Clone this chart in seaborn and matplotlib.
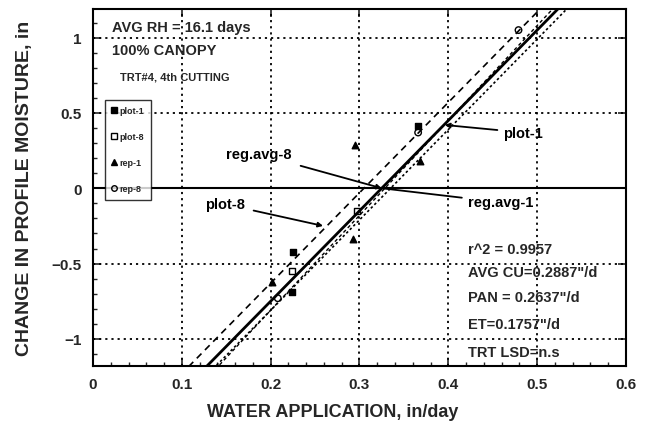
import matplotlib
matplotlib.use("Agg")
import matplotlib.pyplot as plt
import seaborn as sns
import numpy as np
import pandas as pd
from matplotlib.ticker import MultipleLocator

# ---- data ----
series_names = ["plot-1", "plot-8", "rep-1", "rep-8"]
s1_x = [0.366, 0.225, 0.224]
s1_y = [0.41, -0.42, -0.69]
s2_x = [0.297, 0.224]
s2_y = [-0.15, -0.55]
s3_x = [0.295, 0.368, 0.201, 0.293]
s3_y = [0.29, 0.18, -0.62, -0.34]
s4_x = [0.366, 0.208, 0.479]
s4_y = [0.37, -0.73, 1.05]

line_names = ["plot-8", "reg.avg-8", "reg.avg-1", "plot-1"]
line_slopes = [6.0, 6.0, 6.0, 6.3]
line_intercepts = [-1.83, -1.95, -2.01, -2.07]

x_ticks = [0, 0.1, 0.2, 0.3, 0.4, 0.5, 0.6]
x_ticklabels = ["0", "0.1", "0.2", "0.3", "0.4", "0.5", "0.6"]
y_ticks = [-1, -0.5, 0, 0.5, 1]
y_ticklabels = ["\u22121", "\u22120.5", "0", "0.5", "1"]

info_top = ["AVG RH = 16.1 days", "100% CANOPY", "TRT#4, 4th CUTTING"]
info_bottom = ["r^2 = 0.9957", "AVG CU=0.2887\"/d", "PAN = 0.2637\"/d",
               "ET=0.1757\"/d", "TRT LSD=n.s"]
info_bottom_y = [-0.40, -0.556, -0.72, -0.90, -1.086]

# ---- style ----
sns.set_style("ticks")
plt.rcParams["font.family"] = ["Liberation Sans", "DejaVu Sans"]
plt.rcParams["font.weight"] = "bold"

fig = plt.figure(figsize=(6.53, 4.35), dpi=100)
ax = fig.add_axes([93 / 653, 1 - 367 / 435, (626 - 93) / 653, (367 - 10) / 435])

# grid
for xv in x_ticks[1:-1]:
    ax.axvline(xv, color="black", lw=1.3, ls=(0, (1.2, 2.2)), zorder=1)
for yv in y_ticks:
    if yv == 0:
        ax.axhline(0, color="black", lw=1.5, zorder=1)
    else:
        ax.axhline(yv, color="black", lw=1.3, ls=(0, (1.2, 2.2)), zorder=1)

# regression lines
xx = np.array([0.08, 0.62])
styles = [(0, (4, 3)), "-", (0, (1.5, 1.5)), (0, (2.5, 2))]
widths = [1.2, 2.0, 1.2, 1.0]
for name, m, b, st, w in zip(line_names, line_slopes, line_intercepts, styles, widths):
    df = pd.DataFrame({"x": xx, "y": m * xx + b})
    sns.lineplot(data=df, x="x", y="y", ax=ax, color="black", lw=w,
                 linestyle=st, zorder=3)

# points
pts = [(s1_x, s1_y, "s", "black"), (s2_x, s2_y, "s", "none"),
       (s3_x, s3_y, "^", "black"), (s4_x, s4_y, "o", "none")]
handles = []
for name, (px, py, mk, fc) in zip(series_names, pts):
    df = pd.DataFrame({"x": px, "y": py})
    sns.scatterplot(data=df, x="x", y="y", ax=ax, marker=mk, s=22,
                    facecolor=fc, edgecolor="black", linewidth=1.0, zorder=4)
    handles.append(plt.Line2D([], [], marker=mk, color="black", ls="none",
                              markerfacecolor=fc, markersize=4))

leg = ax.legend(handles, series_names, loc="upper left",
                bbox_to_anchor=(0.0225, 0.746), fontsize=6.5, frameon=True,
                fancybox=False, edgecolor="black", handlelength=0.6,
                handletextpad=0.3, borderpad=0.7, labelspacing=1.9,
                borderaxespad=0)
leg.get_frame().set_linewidth(1.0)

# annotations
ann_kw = dict(fontsize=10.5, fontweight="bold", color="black")
ax.annotate("reg.avg-8", xy=(0.325, 0.0), xytext=(0.224, 0.225),
            ha="right", va="center",
            arrowprops=dict(arrowstyle="-|>", color="black", lw=1.3,
                            shrinkA=4, shrinkB=0, mutation_scale=7), **ann_kw)
ax.annotate("plot-8", xy=(0.259, -0.25), xytext=(0.171, -0.106),
            ha="right", va="center",
            arrowprops=dict(arrowstyle="-|>", color="black", lw=1.3,
                            shrinkA=4, shrinkB=0, mutation_scale=7), **ann_kw)
ax.annotate("reg.avg-1", xy=(0.325, 0.0), xytext=(0.422, -0.093),
            ha="left", va="center",
            arrowprops=dict(arrowstyle="-", color="black", lw=1.3,
                            shrinkA=2, shrinkB=0), **ann_kw)
ax.annotate("plot-1", xy=(0.396, 0.42), xytext=(0.462, 0.37),
            ha="left", va="center",
            arrowprops=dict(arrowstyle="-|>", color="black", lw=1.3,
                            shrinkA=2, shrinkB=0, mutation_scale=7), **ann_kw)

# info texts
ax.text(0.021, 1.07, info_top[0], fontsize=10.5, fontweight="bold", va="center")
ax.text(0.021, 0.92, info_top[1], fontsize=10.5, fontweight="bold", va="center")
ax.text(0.03, 0.74, info_top[2], fontsize=8, fontweight="bold", va="center")
for t, yv in zip(info_bottom, info_bottom_y):
    ax.text(0.422, yv, t, fontsize=10.5, fontweight="bold", va="center")

# axes
ax.set_xlim(0, 0.6)
ax.set_ylim(-1.18, 1.19)
ax.set_xticks(x_ticks)
ax.set_xticklabels(x_ticklabels, fontsize=11, fontweight="bold")
ax.set_yticks(y_ticks)
ax.set_yticklabels(y_ticklabels, fontsize=11, fontweight="bold")
ax.xaxis.set_minor_locator(MultipleLocator(0.02))
ax.yaxis.set_minor_locator(MultipleLocator(0.1))
ax.tick_params(which="major", direction="in", length=6, width=1.2,
               top=True, right=True, pad=8)
ax.tick_params(which="minor", direction="in", length=3, width=1.0,
               top=False, right=False)
for sp in ax.spines.values():
    sp.set_linewidth(1.5)
    sp.set_color("black")

ax.set_xlabel("WATER APPLICATION, in/day", fontsize=13, fontweight="bold")
ax.set_ylabel("CHANGE IN PROFILE MOISTURE, in", fontsize=14, fontweight="bold")
ax.xaxis.set_label_coords(0.45, -0.105)
ax.yaxis.set_label_coords(-0.113, 0.5)

fig.savefig("out.png", dpi=100)
